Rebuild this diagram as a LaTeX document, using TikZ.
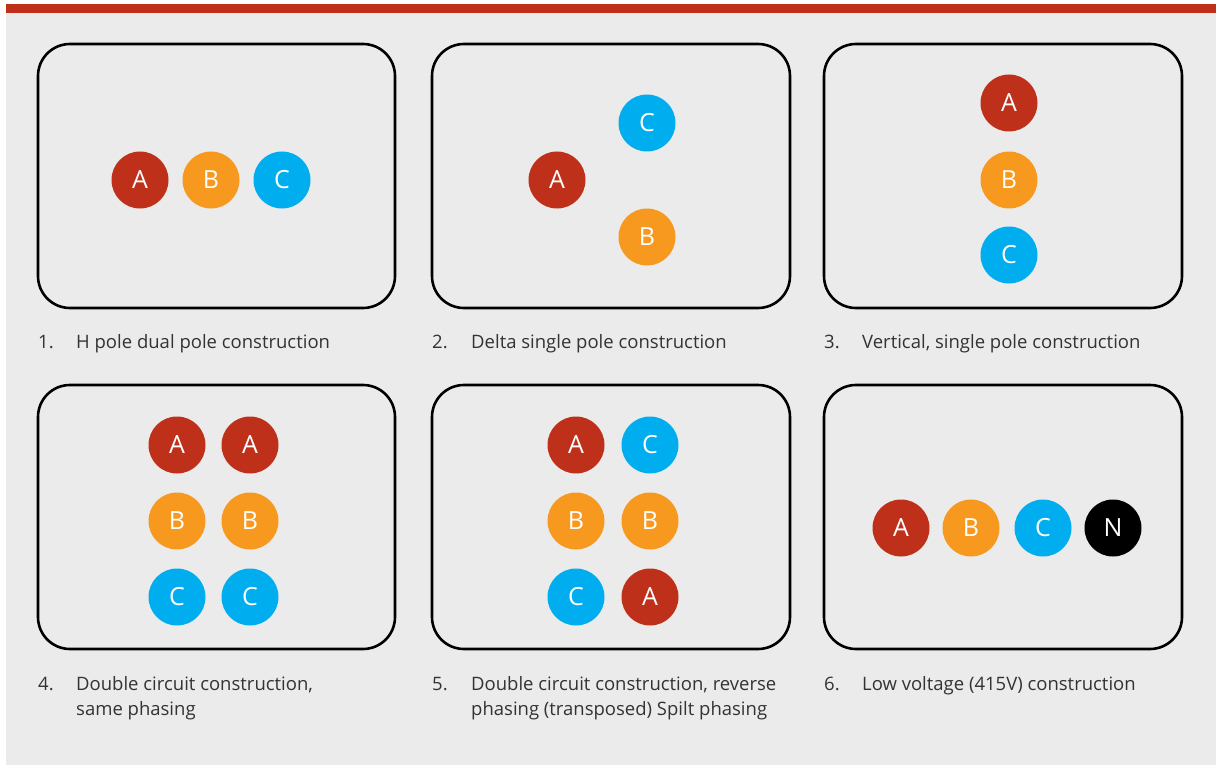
\documentclass[tikz,border=0pt]{standalone}
\usepackage{fontspec}
\setmainfont{Open Sans}
\definecolor{bgray}{HTML}{EBEBEB}
\definecolor{phred}{HTML}{BE3019}
\definecolor{phorange}{HTML}{F7991F}
\definecolor{phblue}{HTML}{00AEEF}
\definecolor{captext}{HTML}{333333}
\begin{document}
\begin{tikzpicture}[x=1pt,y=-1pt,
  panel/.style={draw=black,line width=2.6pt,rounded corners=32pt},
  phase/.style={circle,minimum size=57pt,inner sep=0pt,text=white,font=\fontsize{25}{25}\selectfont},
  pa/.style={phase,fill=phred},
  pb/.style={phase,fill=phorange},
  pc/.style={phase,fill=phblue},
  pn/.style={phase,fill=black},
  numtxt/.style={anchor=base west,inner sep=0pt,text=captext,font=\fontsize{18.5}{25}\selectfont},
  captxt/.style={anchor=base west,inner sep=0pt,text=captext,align=left,font=\fontsize{18.5}{25}\selectfont}]
\useasboundingbox (0,0) rectangle (1216,765);
\fill[white] (0,0) rectangle (1216,765);
\fill[bgray] (6,13) rectangle (1216,765);
\fill[phred] (6,4) rectangle (1216,13);
% panels
\draw[panel] (38,44) rectangle (395,308);
\draw[panel] (432,44) rectangle (790,308);
\draw[panel] (824,44) rectangle (1182,308);
\draw[panel] (38,385) rectangle (395,649);
\draw[panel] (432,385) rectangle (790,649);
\draw[panel] (824,385) rectangle (1182,649);
% panel 1
\node[pa] (p1a) at (140,180) {A};
\node[pb] (p1b) at (211,180) {B};
\node[pc] (p1c) at (282,180) {C};
% panel 2
\node[pc] (p2c) at (647,123) {C};
\node[pa] (p2a) at (557,180) {A};
\node[pb] (p2b) at (647,237) {B};
% panel 3
\node[pa] (p3a) at (1009,103) {A};
\node[pb] (p3b) at (1009,180) {B};
\node[pc] (p3c) at (1009,255) {C};
% panel 4
\node[pa] (p4a1) at (177,445) {A};
\node[pa] (p4a2) at (250,445) {A};
\node[pb] (p4b1) at (177,521) {B};
\node[pb] (p4b2) at (250,521) {B};
\node[pc] (p4c1) at (177,597) {C};
\node[pc] (p4c2) at (250,597) {C};
% panel 5
\node[pa] (p5a1) at (576,445) {A};
\node[pc] (p5c1) at (650,445) {C};
\node[pb] (p5b1) at (576,521) {B};
\node[pb] (p5b2) at (650,521) {B};
\node[pc] (p5c2) at (576,597) {C};
\node[pa] (p5a2) at (650,597) {A};
% panel 6
\node[pa] (p6a) at (901,528) {A};
\node[pb] (p6b) at (971,528) {B};
\node[pc] (p6c) at (1043,528) {C};
\node[pn] (p6n) at (1113,528) {N};
% captions
\node[numtxt] (n1) at (38,348) {1.};
\node[captxt] (c1) at (76,348) {H pole dual pole construction};
\node[numtxt] (n2) at (432,348) {2.};
\node[captxt] (c2) at (471,348) {Delta single pole construction};
\node[numtxt] (n3) at (824,348) {3.};
\node[captxt] (c3) at (862,348) {Vertical, single pole construction};
\node[numtxt] (n4) at (38,690) {4.};
\node[captxt] (c4) at (76,715) {Double circuit construction,\\same phasing};
\node[numtxt] (n5) at (432,690) {5.};
\node[captxt] (c5) at (471,715) {Double circuit construction, reverse\\phasing (transposed) Spilt phasing};
\node[numtxt] (n6) at (824,690) {6.};
\node[captxt] (c6) at (862,690) {Low voltage (415V) construction};
\end{tikzpicture}
\end{document}
